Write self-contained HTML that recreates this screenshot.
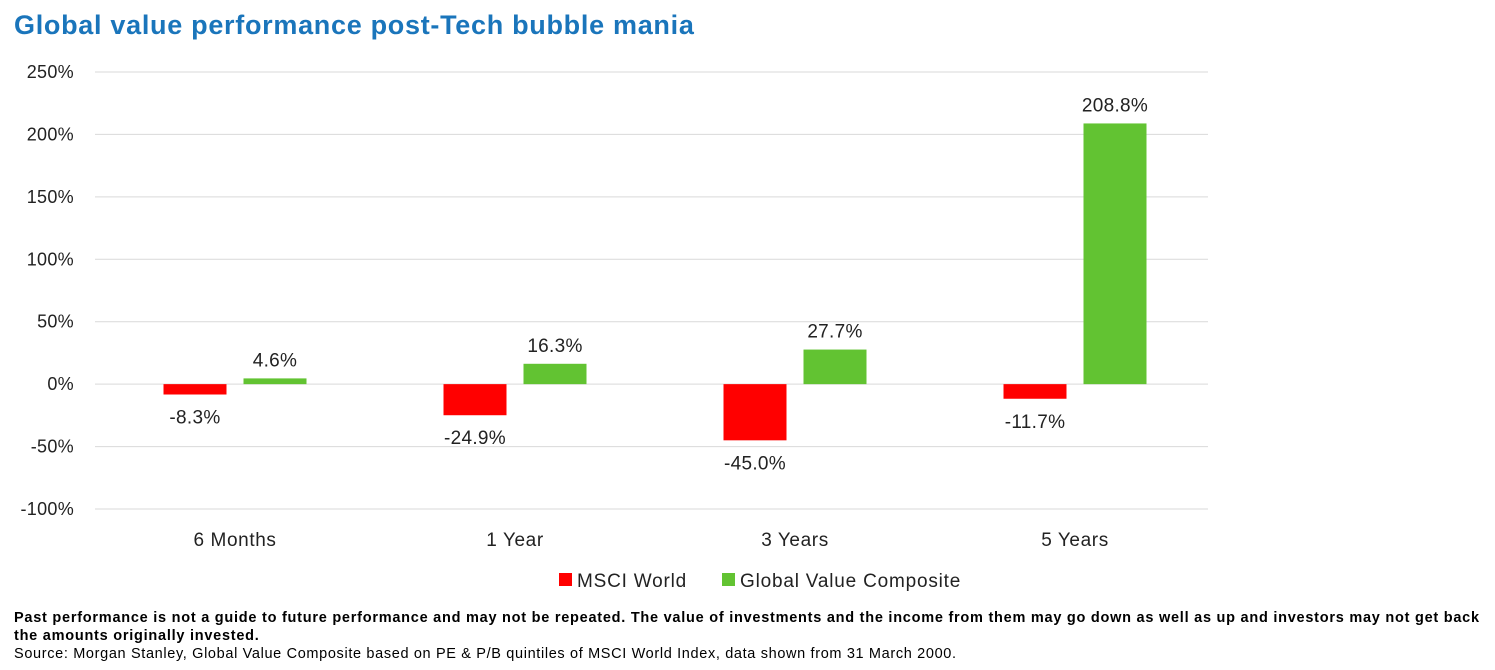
<!DOCTYPE html>
<html><head><meta charset="utf-8">
<style>
body{margin:0;width:1495px;height:670px;background:#fff;font-family:"Liberation Sans",sans-serif;overflow:hidden;position:relative}
.title{position:absolute;left:14px;top:10px;font-size:27px;font-weight:bold;color:#1a75bb;letter-spacing:0.7px}
.foot{position:absolute;left:14px;font-size:14.5px;color:#000}
</style></head><body>
<div class="title">Global value performance post-Tech bubble mania</div>
<svg id="chart" width="1495" height="600" style="position:absolute;left:0;top:0"></svg>
<div class="foot" style="top:609px;font-weight:bold;line-height:18px;width:1480px;letter-spacing:0.75px">Past performance is not a guide to future performance and may not be repeated. The value of investments and the income from them may go down as well as up and investors may not get back the amounts originally invested.</div>
<div class="foot" style="top:646px;letter-spacing:0.65px">Source: Morgan Stanley, Global Value Composite based on PE &amp; P/B quintiles of MSCI World Index, data shown from 31 March 2000.</div>
<script>
const categories=["6 Months","1 Year","3 Years","5 Years"];
const msciWorld=[-8.3,-24.9,-45.0,-11.7];
const valueComposite=[4.6,16.3,27.7,208.8];
const yTicks=[250,200,150,100,50,0,-50,-100];
const seriesNames=["MSCI World","Global Value Composite"];
const colors=["#ff0000","#62c332"];
const svg=document.getElementById('chart');
const NS="http://www.w3.org/2000/svg";
const x0=95,bandW=280,yTop=72,yBot=509,vMax=250,vMin=-100;
const y=v=>yTop+(vMax-v)/(vMax-vMin)*(yBot-yTop);
function mk(t,a){const e=document.createElementNS(NS,t);for(const k in a)e.setAttribute(k,a[k]);svg.appendChild(e);return e;}
yTicks.forEach(t=>{
 const l=mk('line',{x1:x0,x2:1208,y1:y(t),y2:y(t),stroke:'#d9d9d9','stroke-width':1});
 
 
 const tx=mk('text',{x:74,y:y(t)+6,'text-anchor':'end','font-size':18,fill:'#222','letter-spacing':0.3});
 tx.textContent=t+'%';
 
 
});
const bw=63,gap=17;
categories.forEach((c,i)=>{
 const cx=x0+bandW*(i+0.5);
 [msciWorld[i],valueComposite[i]].forEach((v,s)=>{
  const bx=s===0?cx-gap/2-bw:cx+gap/2;
  const r=mk('rect',{x:bx,y:Math.min(y(v),y(0)),width:bw,height:Math.abs(y(v)-y(0)),fill:colors[s]});
  
  
  const ly=v>=0?y(v)-12:y(v)+29;
  const t=mk('text',{x:bx+bw/2,y:ly,'text-anchor':'middle','font-size':19,fill:'#222','letter-spacing':0.3});
  t.textContent=v.toFixed(1)+'%';
  
  
 });
 const ct=mk('text',{x:cx,y:546,'text-anchor':'middle','font-size':19,fill:'#222','letter-spacing':0.6});
 ct.textContent=c;
 
 
});
const lx=[559,722];
seriesNames.forEach((n,s)=>{
 const r=mk('rect',{x:lx[s],y:573,width:13,height:13,fill:colors[s]});
 
 
 const t=mk('text',{x:lx[s]+18,y:587,'font-size':19,fill:'#222','letter-spacing':0.8});
 t.textContent=n;
 
 
});
</script>
</body></html>
